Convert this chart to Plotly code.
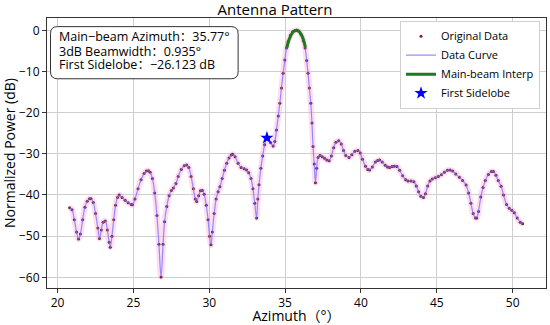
import plotly.graph_objects as go

# ---- data ----
azimuth = [
    20.79, 20.95, 21.1, 21.25, 21.38, 21.5, 21.65, 21.8, 21.95, 22.1, 22.2, 22.35, 22.5, 22.65,
    22.76, 22.88, 23.0, 23.14, 23.28, 23.4, 23.47, 23.58, 23.7, 23.82, 23.95, 24.06, 24.25,
    24.45, 24.65, 24.85, 24.93, 25.1, 25.3, 25.5, 25.7, 25.85, 25.99, 26.1, 26.25, 26.4,
    26.55, 26.68, 26.82, 26.95, 27.05, 27.2, 27.35, 27.5, 27.63, 27.8, 27.95, 28.15, 28.35,
    28.51, 28.65, 28.8, 28.95, 29.08, 29.17, 29.3, 29.42, 29.54, 29.66, 29.8, 29.92, 30.02,
    30.11, 30.2, 30.32, 30.45, 30.58, 30.7, 30.85, 31.0, 31.15, 31.3, 31.45, 31.54, 31.7,
    31.9, 32.1, 32.3, 32.46, 32.6, 32.75, 32.88, 33.0, 33.12, 33.2, 33.28, 33.4, 33.52,
    33.65, 33.78, 33.9, 34.05, 34.21, 34.32, 34.43, 34.55, 34.65, 34.76, 34.87, 34.98,
    35.09, 35.2, 35.35, 35.5, 35.65, 35.77, 35.9, 36.05, 36.2, 36.32, 36.42, 36.51, 36.6,
    36.69, 36.77, 36.84, 36.92, 37.0, 37.08, 37.17, 37.3, 37.45, 37.6, 37.75, 37.9, 38.05,
    38.2, 38.35, 38.53, 38.7, 38.85, 39.0, 39.21, 39.4, 39.6, 39.8, 39.95, 40.1, 40.3,
    40.45, 40.57, 40.75, 40.95, 41.1, 41.23, 41.4, 41.6, 41.75, 41.89, 42.05, 42.2, 42.37,
    42.55, 42.75, 42.95, 43.1, 43.3, 43.49, 43.65, 43.8, 43.95, 44.12, 44.25, 44.4, 44.55,
    44.7, 44.9, 45.1, 45.3, 45.5, 45.7, 45.88, 46.05, 46.25, 46.49, 46.7, 46.93, 47.1,
    47.25, 47.4, 47.55, 47.63, 47.75, 47.9, 48.05, 48.2, 48.4, 48.6, 48.73, 48.9, 49.05,
    49.24, 49.4, 49.6, 49.78, 49.95, 50.11, 50.3, 50.5, 50.66,
]
power_db = [
    -43.1, -43.6, -46.0, -49.0, -50.7, -49.5, -46.0, -43.0, -41.5, -40.9, -40.9, -41.8, -44.5, -48.0,
    -50.6, -48.5, -46.6, -46.3, -48.5, -51.5, -52.7, -50.0, -46.0, -42.5, -40.6, -40.0, -40.6,
    -41.3, -41.9, -42.3, -42.4, -41.0, -38.5, -36.3, -34.8, -34.2, -34.1, -34.5, -36.0, -39.5,
    -45.0, -52.0, -59.9, -52.0, -46.5, -42.8, -40.2, -38.9, -38.3, -37.2, -35.5, -33.8, -32.9,
    -32.7, -33.3, -35.5, -38.5, -41.0, -41.6, -40.2, -39.0, -38.9, -39.8, -42.5, -46.0, -50.0,
    -52.1, -49.0, -44.5, -41.0, -39.2, -38.0, -36.0, -34.0, -32.3, -31.0, -30.3, -30.1, -30.7,
    -32.3, -33.3, -33.6, -33.9, -34.6, -36.0, -38.5, -42.0, -45.6, -41.0, -37.5, -33.5, -30.5,
    -27.8, -26.3, -26.4, -27.3, -28.1, -27.0, -24.2, -20.8, -17.7, -14.0, -10.4, -7.2,
    -4.3, -2.7, -1.2, -0.35, -0.05, 0.0, -0.2, -1.0, -2.5, -4.3, -7.3, -10.4, -14.0,
    -17.7, -22.5, -28.2, -32.5, -37.0, -33.5, -30.9, -30.4, -30.7, -31.1, -31.5, -31.7, -30.5,
    -28.5, -27.2, -26.8, -27.6, -29.2, -30.4, -30.9, -30.2, -29.4, -29.2, -29.8, -31.3, -33.0,
    -33.8, -33.9, -33.2, -32.0, -31.6, -31.5, -32.0, -32.8, -33.2, -33.3, -33.1, -33.0, -33.1,
    -34.0, -35.3, -36.3, -36.6, -36.6, -36.8, -37.8, -39.2, -40.3, -40.6, -39.7, -37.8, -36.6,
    -36.1, -35.8, -35.5, -35.1, -34.5, -34.0, -33.9, -34.2, -34.9, -35.7, -36.5, -37.6, -39.5,
    -42.0, -44.5, -45.6, -45.6, -44.0, -40.5, -38.2, -36.5, -35.0, -34.3, -34.3, -35.2, -36.5,
    -37.9, -40.0, -42.3, -43.2, -43.7, -44.3, -45.6, -46.6, -47.0,
]

mainbeam_az = [35.12, 35.2, 35.3, 35.4, 35.5, 35.6, 35.7, 35.77, 35.85, 35.95, 36.05, 36.15, 36.25, 36.33]
mainbeam_db = [-4.2, -2.9, -1.9, -1.1, -0.5, -0.15, -0.02, 0.0, -0.08, -0.4, -0.95, -1.7, -2.8, -4.1]

sidelobe_az = [33.8]
sidelobe_db = [-26.123]

info_lines = [
    "Main\u2212beam Azimuth\uff1a35.77\u00b0",
    "3dB Beamwidth\uff1a0.935\u00b0",
    "First Sidelobe\uff1a\u221226.123 dB",
]

x_ticks = [20, 25, 30, 35, 40, 45, 50]
y_ticks = [0, -10, -20, -30, -40, -50, -60]

FONT = "Open Sans, Noto Sans CJK SC, DejaVu Sans, sans-serif"

fig = go.Figure()

# soft pink halo behind the points
fig.add_trace(go.Scatter(
    x=azimuth, y=power_db, mode="lines", line=dict(color="rgba(255,170,215,0.4)", width=6, shape="spline"),
    showlegend=False, hoverinfo="skip",
))
fig.add_trace(go.Scatter(
    x=azimuth, y=power_db, mode="markers", name="Original Data",
    marker=dict(color="#7a2030", size=3),
))
fig.add_trace(go.Scatter(
    x=azimuth, y=power_db, mode="lines", name="Data Curve",
    line=dict(color="rgba(110,110,255,0.75)", width=1.2, shape="spline"),
))
fig.add_trace(go.Scatter(
    x=mainbeam_az, y=mainbeam_db, mode="lines", name="Main-beam Interp",
    line=dict(color="#1f7a1f", width=3, shape="spline"),
))
fig.add_trace(go.Scatter(
    x=sidelobe_az, y=sidelobe_db, mode="markers", name="First Sidelobe",
    marker=dict(color="blue", size=10, symbol="star"),
))

# rounded info box (paper coords)
x0, x1, y0, y1 = 0.007, 0.383, 0.775, 0.968
rx, ry = 0.014, 0.026
path = (f"M {x0+rx},{y0} L {x1-rx},{y0} Q {x1},{y0} {x1},{y0+ry} L {x1},{y1-ry} "
        f"Q {x1},{y1} {x1-rx},{y1} L {x0+rx},{y1} Q {x0},{y1} {x0},{y1-ry} "
        f"L {x0},{y0+ry} Q {x0},{y0} {x0+rx},{y0} Z")
fig.add_shape(type="path", path=path, xref="paper", yref="paper",
              line=dict(color="#333333", width=1), fillcolor="white", layer="above")
line_y = [0.93, 0.877, 0.827]
for txt, yy in zip(info_lines, line_y):
    fig.add_annotation(text=txt, xref="paper", yref="paper", x=0.02, y=yy,
                       xanchor="left", yanchor="middle", showarrow=False,
                       font=dict(family=FONT, size=12.5, color="black"))

fig.update_layout(
    width=550, height=325,
    margin=dict(l=47, r=4, t=18, b=37, autoexpand=False),
    paper_bgcolor="white", plot_bgcolor="white",
    font=dict(family=FONT, size=12, color="black"),
    title=dict(text="Antenna Pattern", x=0.5, xanchor="center", y=0.97, yanchor="middle",
               yref="container", font=dict(size=15, family=FONT)),
    legend=dict(x=0.988, y=0.99, xanchor="right", yanchor="top",
                bgcolor="white", bordercolor="#d0d0d0", borderwidth=1,
                font=dict(size=11, family=FONT), tracegroupgap=0, itemwidth=30),
    showlegend=True,
)
fig.update_xaxes(range=[19.3, 52.2], tickvals=x_ticks, showgrid=True, gridcolor="#cfcfcf", gridwidth=1,
                 showline=True, linecolor="#333333", mirror=True, ticks="outside", ticklen=4,
                 tickcolor="#333333", zeroline=False, automargin=False,
                 title=dict(text="Azimuth\uff08\u00b0\uff09", font=dict(size=14), standoff=2))
fig.update_yaxes(range=[-62.6, 3.0], tickvals=y_ticks, showgrid=True, gridcolor="#cfcfcf", gridwidth=1,
                 showline=True, linecolor="#333333", mirror=True, ticks="outside", ticklen=4,
                 tickcolor="#333333", zeroline=False, automargin=False,
                 title=dict(text="Normalized Power (dB)", font=dict(size=14), standoff=2))

fig.write_html("out.html", config={"displayModeBar": False},
               post_script="document.body.style.margin='0';document.body.style.padding='0';")
